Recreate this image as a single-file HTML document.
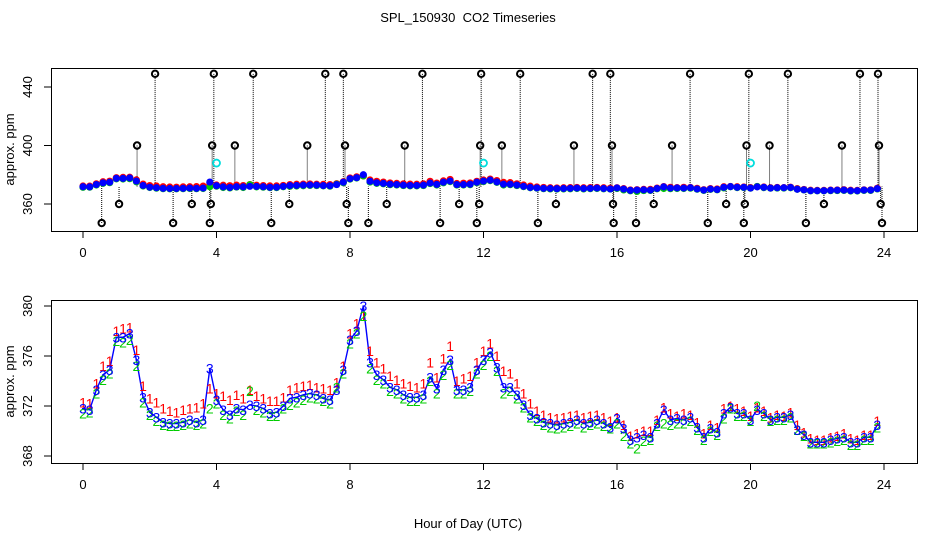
<!DOCTYPE html>
<html><head><meta charset="utf-8"><style>
html,body{margin:0;padding:0;background:#fff}
svg{display:block;font-family:"Liberation Sans",sans-serif}
</style></head><body>
<svg id="c" width="936" height="540" viewBox="0 0 936 540">
<text x="468" y="22" font-size="13" text-anchor="middle">SPL_150930&#160; CO2 Timeseries</text>
<text x="468" y="528" font-size="13" text-anchor="middle">Hour of Day (UTC)</text>
</svg>
<script>
const hours=[];for(let i=0;i<120;i++)hours.push(+(i*0.2).toFixed(1));
const blueVals=[371.8,371.7,373.3,374.5,374.9,377.5,377.5,377.8,375.7,372.7,
371.5,371.1,370.7,370.6,370.6,370.7,370.9,370.7,370.9,375.0,
372.5,371.7,371.3,371.8,371.7,372.1,372.0,371.8,371.4,371.5,
372.0,372.6,372.7,372.9,373.0,372.9,372.6,372.5,373.3,374.9,
377.3,378.0,380.0,375.5,374.5,374.1,373.5,373.3,372.9,372.7,
372.7,372.9,374.3,373.4,374.9,375.7,373.3,373.3,373.5,374.9,
375.7,376.3,375.1,373.5,373.5,372.9,372.1,371.3,371.0,370.7,
370.6,370.5,370.6,370.7,370.9,370.6,370.7,370.9,370.6,370.3,
371.0,370.2,369.3,369.5,369.7,369.5,370.6,371.7,370.9,371.0,
370.9,371.1,370.3,369.5,370.2,369.9,371.4,371.9,371.4,371.4,
370.9,371.7,371.4,370.9,371.1,371.1,371.3,370.1,369.7,369.1,
369.1,369.1,369.3,369.4,369.5,369.1,369.1,369.5,369.5,370.5];
const redVals=[372.3,372.2,373.8,375.2,375.6,378.0,378.2,378.3,376.5,373.6,
372.6,372.3,371.8,371.6,371.5,371.7,371.8,371.9,372.2,373.4,
373.0,372.8,372.5,372.9,372.6,373.3,372.8,372.6,372.4,372.4,
372.7,373.3,373.5,373.6,373.7,373.5,373.4,373.3,373.9,375.2,
377.8,378.6,379.2,376.4,375.5,375.0,374.4,374.1,373.8,373.6,
373.5,373.8,375.5,374.3,375.8,376.8,374.0,374.2,374.4,375.5,
376.4,377.0,376.0,374.8,374.6,373.8,373.0,372.2,371.6,371.3,
371.1,371.0,371.1,371.2,371.3,371.1,371.2,371.3,371.1,370.8,
371.1,370.5,369.6,369.8,370.0,370.0,370.9,371.9,371.4,371.2,
371.4,371.3,370.7,369.8,370.5,370.3,371.8,372.0,371.8,371.6,
371.2,371.9,371.6,371.1,371.3,371.2,371.5,370.5,369.9,369.4,
369.3,369.3,369.5,369.6,369.8,369.4,369.3,369.7,369.7,370.8];
const greenVals=[371.4,371.5,373.0,374.1,374.6,377.2,377.1,377.3,375.2,372.3,
371.3,370.8,370.5,370.4,370.4,370.5,370.6,370.5,370.6,371.8,
372.2,371.3,371.0,371.6,371.3,373.2,371.7,371.5,371.2,371.2,
371.8,372.1,372.3,372.5,372.7,372.6,372.4,372.2,373.5,374.6,
377.0,377.8,379.2,375.0,374.1,373.8,373.2,373.0,372.6,372.4,
372.4,372.6,374.0,373.0,374.5,375.3,373.0,373.0,373.2,374.6,
375.3,376.0,374.8,373.0,373.2,372.6,371.9,371.1,370.8,370.5,
370.3,370.2,370.3,370.4,370.6,370.3,370.5,370.6,370.4,370.2,
370.6,369.6,369.0,368.6,369.2,369.3,370.4,370.6,370.5,370.6,
370.6,370.8,370.1,369.3,370.0,369.7,371.0,371.8,371.2,371.2,
370.8,372.0,371.2,370.8,370.9,370.9,371.1,370.1,369.6,369.0,
369.0,369.0,369.1,369.2,369.3,368.9,368.9,369.3,369.3,370.3];
const outHours=[0.56,1.08,1.62,2.16,2.7,3.26,3.8,3.83,3.87,3.92,4.55,5.1,5.64,6.18,6.72,7.26,7.8,7.85,7.9,7.95,8.55,9.1,9.64,10.17,10.7,11.27,11.8,11.87,11.9,11.93,12.55,13.1,13.63,14.17,14.71,15.27,15.8,15.85,15.88,15.9,16.57,17.1,17.65,18.19,18.72,19.27,19.8,19.83,19.88,19.95,20.57,21.12,21.66,22.2,22.74,23.28,23.82,23.85,23.9,23.94];
const outVals=[347,360,400,449,347,360,347,360,400,449,400,449,347,360,400,449,449,400,360,347,347,360,400,449,347,360,347,360,400,449,400,449,347,360,400,449,449,400,360,347,347,360,400,449,347,360,347,360,400,449,400,449,347,360,400,449,449,400,360,347];
const cyanHours=[4.0,12.0,20.0];
const cyanVals=[388,388,388];
const xTicks=[0,4,8,12,16,20,24];
const topYTicks=[360,400,440];
const botYTicks=[368,372,376,380];

const NS='http://www.w3.org/2000/svg';
const svg=document.getElementById('c');
function mk(tag,attrs,parent){const e=document.createElementNS(NS,tag);for(const k in attrs)e.setAttribute(k,attrs[k]);(parent||svg).appendChild(e);return e;}
const xs=h=>83+h*33.375;
const yTop=v=>204-(v-360)*1.4625;
const yBot=v=>456-(v-368)*12.5;

function frame(y0,y1,yTicks,ys,name){
  const g=mk('g',{});
  
  
  const r=mk('rect',{x:51.5,y:y0+0.5,width:866,height:y1-y0,fill:'none',stroke:'#000'},g);
  
  
  const xa=mk('g',{},g);
  
  
  mk('line',{x1:xs(0),x2:xs(24),y1:y1+0.5,y2:y1+0.5,stroke:'#000'},xa);
  xTicks.forEach(t=>{
    mk('line',{x1:xs(t),x2:xs(t),y1:y1,y2:y1+7,stroke:'#000'},xa);
    const tx=mk('text',{x:xs(t),y:y1+26,'font-size':13,'text-anchor':'middle'},xa);
    tx.textContent=t;
    
    
  });
  const ya=mk('g',{},g);
  
  
  mk('line',{x1:51.5,x2:51.5,y1:ys(yTicks[0]),y2:ys(yTicks[yTicks.length-1]),stroke:'#000'},ya);
  yTicks.forEach(t=>{
    mk('line',{x1:44,x2:51,y1:ys(t),y2:ys(t),stroke:'#000'},ya);
    const tx=mk('text',{x:32,y:ys(t),'font-size':13,'text-anchor':'middle',transform:`rotate(-90 32 ${ys(t)})`},ya);
    tx.textContent=t;
    
    
  });
  const yt=mk('text',{x:14,y:(y0+y1)/2,'font-size':13,'text-anchor':'middle',transform:`rotate(-90 14 ${(y0+y1)/2})`},g);
  yt.textContent='approx. ppm';
  
  
}
frame(68,231,topYTicks,yTop,'top-panel');
frame(300,463,botYTicks,yBot,'bottom-panel');

const stems=mk('g',{stroke:'#000','stroke-dasharray':'1 1','stroke-width':1});


outHours.forEach((h,i)=>{mk('line',{x1:xs(h),x2:xs(h),y1:yTop(outVals[i]),y2:yTop(372)},stems);});
[[redVals,'#f00'],[greenVals,'#0c0'],[blueVals,'#00f']].forEach(([arr,col])=>{
  const g=mk('g',{fill:col});
  
  
  arr.forEach((v,i)=>{mk('circle',{cx:xs(hours[i]),cy:yTop(v),r:3.6},g);});
});
const og=mk('g',{fill:'none',stroke:'#000','stroke-width':2});


outHours.forEach((h,i)=>{mk('circle',{cx:xs(h),cy:yTop(outVals[i]),r:3.2},og);});
const cg=mk('g',{fill:'none',stroke:'#0dd','stroke-width':1.8});


cyanHours.forEach((h,i)=>{mk('circle',{cx:xs(h),cy:yTop(cyanVals[i]),r:3.5},cg);});

const line=mk('polyline',{fill:'none',stroke:'#00f','stroke-width':1.4,points:blueVals.map((v,i)=>xs(hours[i])+','+yBot(v)).join(' ')});


[[redVals,'#f00','1'],[greenVals,'#0c0','2'],[blueVals,'#00f','3']].forEach(([arr,col,ch])=>{
  const g=mk('g',{fill:col,'font-size':14,'text-anchor':'middle'});
  
  
  arr.forEach((v,i)=>{const t=mk('text',{x:xs(hours[i]),y:yBot(v)+5},g);t.textContent=ch;});
});
</script>
</body></html>
